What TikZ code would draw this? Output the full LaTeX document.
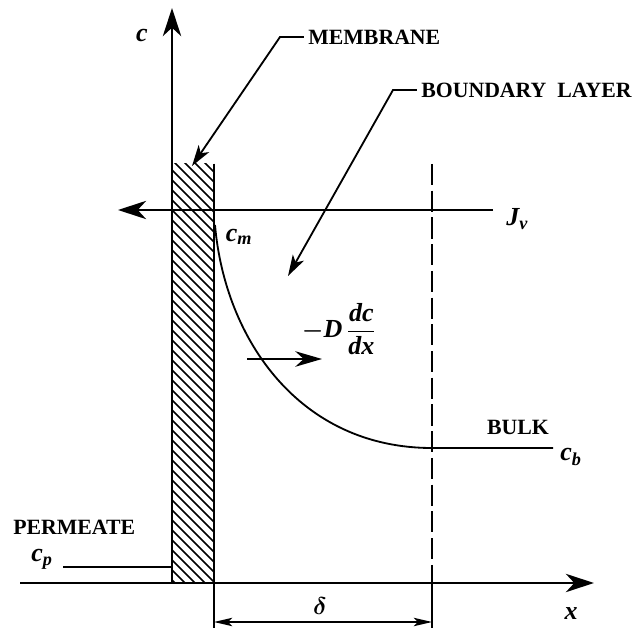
\documentclass[tikz,border=0pt]{standalone}
\usepackage{amsmath}
\usepackage{fontspec}
\setmainfont{Liberation Serif}
\usetikzlibrary{arrows.meta, positioning, calc}

\begin{document}
\begin{tikzpicture}[
    x=0.025cm, y=-0.025cm,
    font=\fontsize{15.5}{18}\selectfont\bfseries,
    axis/.style={line width=1.8pt, -{Stealth[length=20pt, width=13pt, inset=6pt]}},
    pointer/.style={line width=1.3pt, -{Stealth[length=15pt, width=9pt, inset=4pt]}},
    dimline/.style={line width=1pt, {Stealth[length=13pt, width=6pt, inset=3pt]}-{Stealth[length=13pt, width=6pt, inset=3pt]}},
    plain/.style={line width=1.3pt},
    sym/.style={inner sep=0pt, font=\fontsize{18.5}{22}\selectfont\bfseries\itshape},
    word/.style={inner sep=0pt}
  ]
  \useasboundingbox (0,0) rectangle (644,628);

  % axes and reference points
  \coordinate (o) at (172,583);
  \coordinate (ctop) at (172,8);
  \coordinate (xstart) at (20,583);
  \coordinate (xend) at (594,583);
  \coordinate (mtop) at (214,164);
  \coordinate (mbot) at (214,583);
  \coordinate (dtop) at (432,164);
  \coordinate (dbot) at (432,583);

  % membrane hatching
  \begin{scope}
    \clip (172,164) rectangle (214,583);
    \foreach \k in {100,110,...,590}
      \draw[line width=1.2pt] (162,\k) -- ++(70,70);
  \end{scope}
  \draw[plain] (mtop) -- (mbot);
  \draw[plain, dash pattern=on 15pt off 4pt] (dtop) -- (dbot);
  \draw[axis] (xstart) -- (xend);
  \draw[axis] (o) -- (ctop);

  % solvent flux
  \node[sym, anchor=west] (jv) at (506,219) {J\textsubscript{v}};
  \coordinate (jvend) at (493,210);
  \coordinate (jvtip) at (118,210);
  \draw[axis, line width=1.5pt] (jvend) -- (jvtip);

  % concentration profile
  \node[sym] (cm) at (239,237) {c\textsubscript{m}};
  \coordinate (wall) at (215,225);
  \coordinate (edge) at (432,448);
  \coordinate (bulkend) at (553,448);
  \draw[plain] (wall) .. controls (225,340) and (300,448) .. (edge) -- (bulkend);
  \node[word] (bulk) at (518,427) {BULK};
  \node[sym] (cb) at (571,457) {c\textsubscript{b}};

  % back diffusion
  \node[sym] (diff) at (339,329) {$\boldsymbol{-}$D\,$\genfrac{}{}{1pt}{0}{\text{dc}}{\text{dx}}$};
  \coordinate (fl) at (247,359);
  \coordinate (fr) at (322,359);
  \draw[line width=1.5pt, -{Stealth[length=19pt, width=11pt, inset=6pt]}] (fl) -- (fr);

  % labels with pointers
  \node[word, anchor=west] (memb) at (308,37) {MEMBRANE};
  \coordinate (mknee) at (280,37);
  \coordinate (mhit) at (192,166);
  \draw[pointer] ([xshift=-3]memb.west) -- (mknee) -- (mhit);

  \node[word, anchor=west] (blayer) at (421,90) {BOUNDARY\ \ LAYER};
  \coordinate (bknee) at (393,90);
  \coordinate (bhit) at (288,276);
  \draw[pointer] ([xshift=-3]blayer.west) -- (bknee) -- (bhit);

  % permeate side
  \node[word, anchor=west] (perm) at (13,527) {PERMEATE};
  \node[sym] (cp) at (42,559) {c\textsubscript{p}};
  \coordinate (pl) at (63,567);
  \coordinate (pr) at (172,567);
  \draw[plain] (pl) -- (pr);

  % boundary layer thickness
  \coordinate (d1) at (214,628);
  \coordinate (d2) at (432,628);
  \draw[line width=1pt] (mbot) -- (d1);
  \draw[line width=1pt] (dbot) -- (d2);
  \draw[dimline] ($(d1)+(0,-6)$) -- ($(d2)+(0,-6)$);
  \node[sym] (delta) at (320,606) {$\boldsymbol{\delta}$};

  % axis names
  \node[sym] (clab) at (142,36) {c};
  \node[sym] (xlab) at (571,614) {x};
\end{tikzpicture}
\end{document}
